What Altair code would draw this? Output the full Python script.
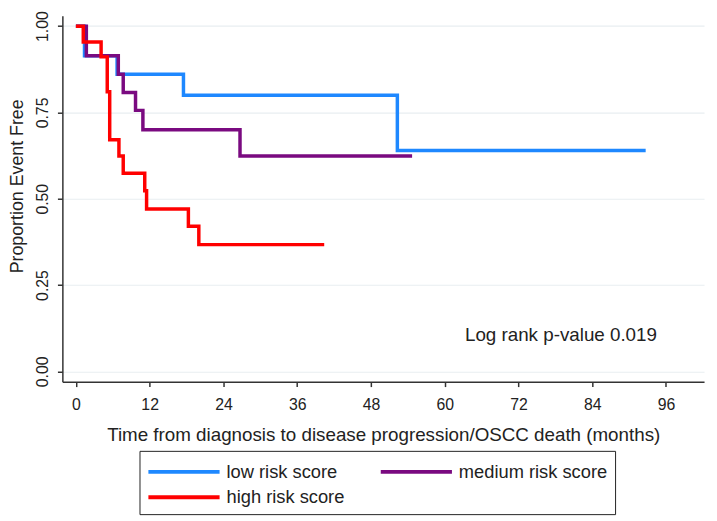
import altair as alt
import pandas as pd

# Kaplan-Meier step values
groups = ["low risk score", "medium risk score", "high risk score"]
colors = ["#1e88ff", "#7a0a80", "#ff0000"]

low_t = [0, 1.4, 6.7, 17.5, 52.3, 92.7]
low_s = [1.0, 0.914, 0.861, 0.800, 0.640, 0.640]

med_t = [0, 1.7, 6.9, 7.7, 9.7, 10.9, 26.7, 54.7]
med_s = [1.0, 0.914, 0.861, 0.808, 0.756, 0.700, 0.624, 0.624]

high_t = [0, 1.2, 4.1, 5.1, 5.5, 7.0, 7.7, 11.2, 11.5, 18.3, 20.0, 40.4]
high_s = [1.0, 0.954, 0.911, 0.810, 0.671, 0.624, 0.574, 0.523, 0.470, 0.420, 0.367, 0.367]

x_ticks = [0, 12, 24, 36, 48, 60, 72, 84, 96]
y_ticks = [0.0, 0.25, 0.5, 0.75, 1.0]

annot_text = ["Log rank p-value 0.019"]
annot_x = [63.3]
annot_y = [0.106]

rows = []
for g, ts, ss in zip(groups, [low_t, med_t, high_t], [low_s, med_s, high_s]):
    for i, (t, s) in enumerate(zip(ts, ss)):
        rows.append({"group": g, "time": t, "surv": s, "order": i})
df = pd.DataFrame(rows)
ann = pd.DataFrame({"text": annot_text, "time": annot_x, "surv": annot_y})

FONT = "Liberation Sans"

x_scale = alt.Scale(domain=[-2.2, 102.2], nice=False, zero=False)
y_scale = alt.Scale(domain=[-0.03, 1.03], nice=False, zero=False)

lines = alt.Chart(df).mark_line(interpolate="step-after", strokeWidth=3.5).encode(
    x=alt.X("time:Q", scale=x_scale,
            axis=alt.Axis(values=x_ticks, grid=False, format="d",
                          title="Time from diagnosis to disease progression/OSCC death (months)",
                          titleY=54, titleBaseline="middle",
                          labelPadding=10)),
    y=alt.Y("surv:Q", scale=y_scale,
            axis=alt.Axis(values=y_ticks, format=".2f", grid=True,
                          title="Proportion Event Free",
                          labelAngle=270, labelAlign="center", labelBaseline="bottom",
                          labelPadding=7,
                          titleX=-45, titleY=172, titleBaseline="middle")),
    color=alt.Color("group:N", scale=alt.Scale(domain=groups, range=colors),
                    legend=alt.Legend(title=None, orient="none", legendX=78, legendY=440,
                                      direction="horizontal", columns=2,
                                      symbolType="M-3,0H3", symbolSize=576,
                                      symbolOffset=24,
                                      symbolStrokeWidth=4, symbolFillColor="transparent",
                                      labelFontSize=18.5,
                                      labelFont=FONT, labelColor="#222222",
                                      labelOffset=29, columnPadding=28, rowPadding=2,
                                      padding=7, strokeColor="#222222",
                                      fillColor="white")),
    order="order:Q",
)

text = alt.Chart(ann).mark_text(align="left", baseline="middle", fontSize=19,
                                 font=FONT, color="#222222").encode(
    x=alt.X("time:Q", scale=x_scale),
    y=alt.Y("surv:Q", scale=y_scale),
    text="text:N",
)

chart = alt.layer(lines, text).properties(
    width=649, height=370,
    autosize=alt.AutoSizeParams(type="none"),
    padding={"left": 55, "top": 5, "right": 5, "bottom": 135},
).configure_view(stroke=None).configure_axis(
    domainColor="#333333", domainWidth=1.5,
    tickColor="#333333", tickSize=5, tickWidth=1.5,
    labelFont=FONT, labelFontSize=16, labelColor="#222222",
    titleFont=FONT, titleFontSize=19, titleColor="#222222", titleFontWeight="normal",
    gridColor="#e8eef1", gridWidth=1.2,
).configure_axisY(titleFontSize=18)

chart.save("out.html", embed_options={"renderer": "svg", "actions": False})
